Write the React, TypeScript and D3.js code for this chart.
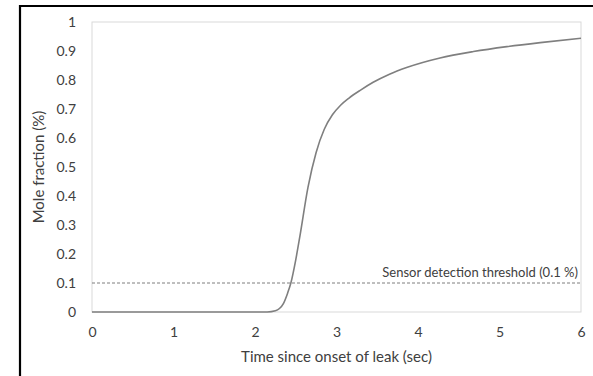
import React, { useEffect, useRef } from "react";
import * as d3 from "d3";

// mole fraction curve
const times = [0, 1, 2, 2.15, 2.25, 2.3, 2.35, 2.4, 2.44, 2.5, 2.55, 2.65, 2.75, 2.85, 2.95, 3.05, 3.15, 3.3, 3.45, 3.65, 3.86, 4.27, 4.68, 5.09, 5.5, 6];
const fractions = [0, 0, 0, 0, 0.004, 0.012, 0.03, 0.065, 0.1, 0.18, 0.26, 0.43, 0.55, 0.63, 0.68, 0.713, 0.737, 0.766, 0.792, 0.82, 0.843, 0.876, 0.898, 0.915, 0.929, 0.944];
const xTicks = [0, 1, 2, 3, 4, 5, 6];
const yTicks = [0, 0.1, 0.2, 0.3, 0.4, 0.5, 0.6, 0.7, 0.8, 0.9, 1];
const threshold = 0.1;
const thresholdLabel = "Sensor detection threshold (0.1 %)";

const width = 593;
const height = 376;
const margin = { top: 22, right: 12, bottom: 64, left: 92 };
const font = "Lato, 'Open Sans', sans-serif";

export default function App() {
  const ref = useRef(null);

  useEffect(() => {
    const svg = d3.select(ref.current);
    svg.selectAll("*").remove();

    const x = d3.scaleLinear().domain([0, 6]).range([margin.left, width - margin.right]);
    const y = d3.scaleLinear().domain([0, 1]).range([height - margin.bottom, margin.top]);

    // outer frame (only top and left show)
    svg.append("line").attr("x1", 19).attr("x2", width).attr("y1", 6).attr("y2", 6)
      .attr("stroke", "#000").attr("stroke-width", 2.2);
    svg.append("line").attr("x1", 20).attr("x2", 20).attr("y1", 5).attr("y2", height)
      .attr("stroke", "#000").attr("stroke-width", 2.2);

    // plot area box
    svg.append("rect")
      .attr("x", x(0)).attr("y", y(1))
      .attr("width", x(6) - x(0)).attr("height", y(0) - y(1))
      .attr("fill", "none").attr("stroke", "#d9d9d9").attr("stroke-width", 1);

    const xAxis = svg.append("g")
      .attr("transform", `translate(0, ${y(0)})`)
      .call(d3.axisBottom(x).tickValues(xTicks).tickSize(0).tickPadding(15).tickFormat(d3.format("d")));
    xAxis.select(".domain").remove();
    xAxis.selectAll("text").attr("font-family", font).attr("font-size", 14).attr("fill", "#404040");

    const yAxis = svg.append("g")
      .attr("transform", `translate(${x(0)}, 0)`)
      .call(d3.axisLeft(y).tickValues(yTicks).tickSize(0).tickPadding(16).tickFormat((d) => String(d)));
    yAxis.select(".domain").remove();
    yAxis.selectAll("text").attr("font-family", font).attr("font-size", 14).attr("fill", "#404040");

    // threshold
    svg.append("line")
      .attr("x1", x(0)).attr("x2", x(6))
      .attr("y1", y(threshold)).attr("y2", y(threshold))
      .attr("stroke", "#7f7f7f").attr("stroke-width", 1).attr("stroke-dasharray", "3,2");
    svg.append("text")
      .attr("x", x(6) - 3).attr("y", y(threshold) - 6)
      .attr("text-anchor", "end")
      .attr("font-family", font).attr("font-size", 13).attr("fill", "#404040")
      .text(thresholdLabel);

    const data = times.map((t, i) => [t, fractions[i]]);
    const line = d3.line().x((d) => x(d[0])).y((d) => y(d[1])).curve(d3.curveMonotoneX);
    svg.append("path")
      .attr("d", line(data))
      .attr("fill", "none").attr("stroke", "#7f7f7f").attr("stroke-width", 1.6);

    svg.append("text")
      .attr("x", (x(0) + x(6)) / 2).attr("y", 362)
      .attr("text-anchor", "middle")
      .attr("font-family", font).attr("font-size", 15).attr("fill", "#404040")
      .text("Time since onset of leak (sec)");

    svg.append("text")
      .attr("transform", `translate(44, ${(y(0) + y(1)) / 2}) rotate(-90)`)
      .attr("text-anchor", "middle")
      .attr("font-family", font).attr("font-size", 15).attr("fill", "#404040")
      .text("Mole fraction (%)");
  }, []);

  return (
    <svg
      ref={ref}
      width={width}
      height={height}
      style={{ position: "absolute", left: 0, top: 0, background: "#fff" }}
    ></svg>
  );
}
